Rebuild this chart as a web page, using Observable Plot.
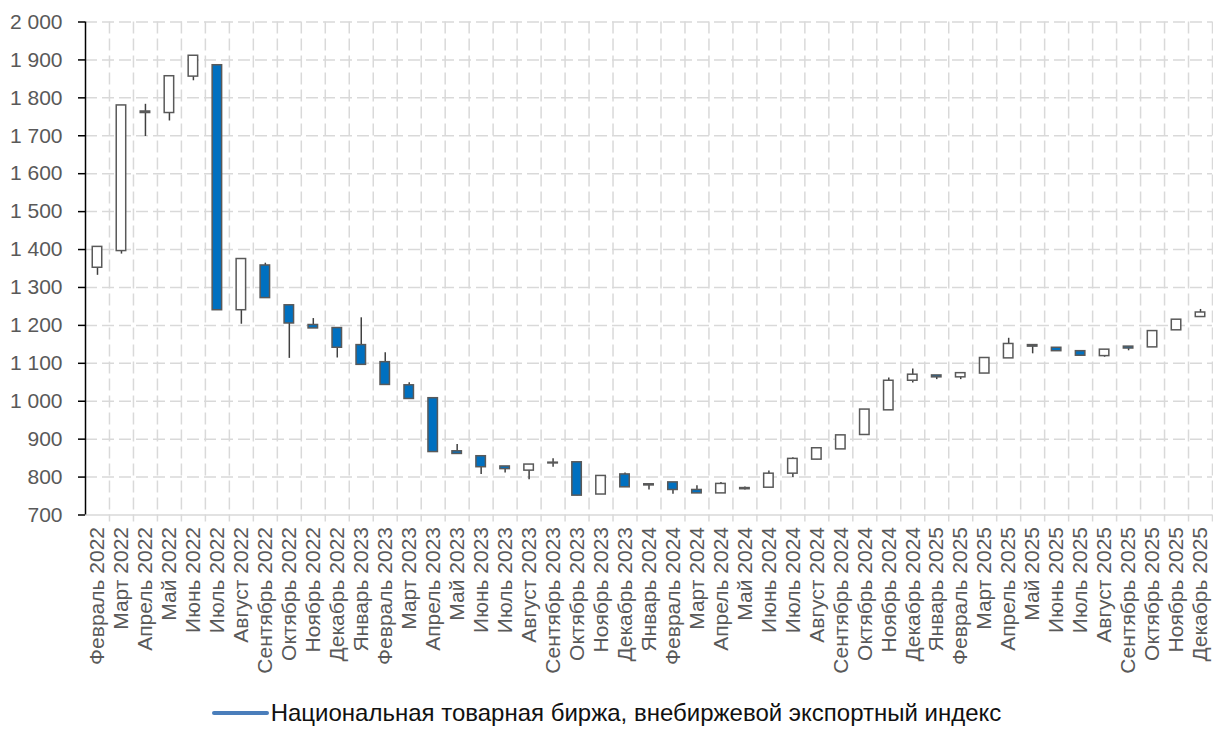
<!DOCTYPE html>
<html><head><meta charset="utf-8">
<script src="https://cdn.jsdelivr.net/npm/d3@7"></script>
<script src="https://cdn.jsdelivr.net/npm/@observablehq/plot@0.6"></script>
<style>
body{margin:0;background:#fff;font-family:"Liberation Sans",Arial,sans-serif;}
#chart svg{display:block;}
#legend{height:46px;display:flex;justify-content:center;align-items:center;font-size:24px;color:#111;}
#legend .sw{display:inline-block;width:57px;height:4px;border-radius:2px;background:#4a7ebb;margin-right:2px;}
</style></head><body><div id="chart"></div><div id="legend"><span class="sw"></span><span id="lt"></span></div>
<script>
const months = ["Февраль 2022","Март 2022","Апрель 2022","Май 2022","Июнь 2022","Июль 2022","Август 2022","Сентябрь 2022","Октябрь 2022","Ноябрь 2022","Декабрь 2022",
"Январь 2023","Февраль 2023","Март 2023","Апрель 2023","Май 2023","Июнь 2023","Июль 2023","Август 2023","Сентябрь 2023","Октябрь 2023","Ноябрь 2023","Декабрь 2023",
"Январь 2024","Февраль 2024","Март 2024","Апрель 2024","Май 2024","Июнь 2024","Июль 2024","Август 2024","Сентябрь 2024","Октябрь 2024","Ноябрь 2024","Декабрь 2024",
"Январь 2025","Февраль 2025","Март 2025","Апрель 2025","Май 2025","Июнь 2025","Июль 2025","Август 2025","Сентябрь 2025","Октябрь 2025","Ноябрь 2025","Декабрь 2025"];
const openV  = [1352,1396,1760,1760,1856,1886,1240,1358,1253,1201,1193, 1148,1103,1042,1008,868,855,828,817,836,839,754,807, 781,786,766,757,771,772,809,846,873,911,976,1054, 1068,1063,1073,1113,1148,1141,1132,1119,1144,1142,1187,1222];
const highV  = [1407,1780,1783,1857,1911,1886,1375,1364,1253,1218,1193, 1220,1128,1049,1008,886,855,828,833,848,839,803,811, 781,786,777,786,774,816,851,876,910,978,1061,1085, 1068,1074,1114,1166,1148,1141,1132,1136,1144,1185,1215,1242];
const lowV   = [1332,1388,1698,1739,1845,1240,1203,1272,1113,1192,1114, 1096,1043,1006,866,861,807,811,793,826,751,754,773, 766,755,757,757,766,772,799,846,873,911,976,1048, 1057,1057,1073,1113,1125,1132,1120,1116,1133,1142,1187,1222];
const closeV = [1407,1780,1764,1857,1911,1240,1375,1272,1205,1192,1141, 1096,1043,1006,866,861,826,821,833,838,751,803,773, 778,766,757,782,768,809,848,876,910,978,1054,1070, 1063,1074,1114,1151,1144,1132,1120,1136,1139,1185,1215,1234];
const yTicks = [700,800,900,1000,1100,1200,1300,1400,1500,1600,1700,1800,1900,2000];
const seriesName = "Национальная товарная биржа, внебиржевой экспортный индекс";

const data = months.map((m,i)=>({month:m, open:openV[i], high:highV[i], low:lowV[i], close:closeV[i]}));
const W=1213, H=690, mL=85, mR=1, mT=21.5, mB=175.5;
const bw = (W-mL-mR)/months.length;
const fmt = d3.formatLocale({thousands:"\u00a0", grouping:[3], decimal:","}).format(",");
const font = '"Liberation Sans", Arial, sans-serif';
const grid = "#d9d9d9";

const chart = Plot.plot({
  width:W, height:H, marginLeft:mL, marginRight:mR, marginTop:mT, marginBottom:mB,
  style:{fontFamily:font, fontSize:"21px", background:"white", overflow:"visible"},
  x:{type:"band", domain:months, padding:0, axis:null},
  y:{domain:[700,2000], axis:null},
  marks:[
    Plot.ruleY(yTicks.filter(t=>t>700), {stroke:grid, strokeWidth:1.5, strokeDasharray:"12,5"}),
    Plot.ruleX(months, {x:d=>d, dx:bw/2, stroke:grid, strokeWidth:1.5, strokeDasharray:"12,5"}),
    Plot.ruleY([700], {stroke:grid, strokeWidth:1.5}),
    Plot.ruleX(months, {x:d=>d, dx:bw/2, y1:700, y2:700, insetBottom:-7, stroke:grid, strokeWidth:1.5}),
    Plot.ruleX([months[0]], {x:d=>d, dx:-bw/2, y1:700, y2:2000, stroke:"black", strokeWidth:1.5}),
    Plot.axisY({ticks:yTicks, tickFormat:fmt, tickSize:7, tickPadding:16, stroke:"black", strokeWidth:1.5, fill:"#595959", label:null}),
    Plot.axisX({tickRotate:-90, tickSize:0, tickPadding:12, fill:"#595959", label:null}),
    Plot.ruleX(data, {x:"month", y1:"low", y2:"high", stroke:"#404040", strokeWidth:1.5}),
    Plot.barY(data.filter(d=>d.close>=d.open), {x:"month", y1:"open", y2:"close", fill:"white", stroke:"#595959", strokeWidth:1.5, insetLeft:7.25, insetRight:7.25}),
    Plot.barY(data.filter(d=>d.close<d.open), {x:"month", y1:"open", y2:"close", fill:"#0070C0", stroke:"#595959", strokeWidth:1.5, insetLeft:7.25, insetRight:7.25})
  ]
});
document.getElementById("chart").appendChild(chart);
document.getElementById("lt").textContent = seriesName;
</script>
</body></html>
